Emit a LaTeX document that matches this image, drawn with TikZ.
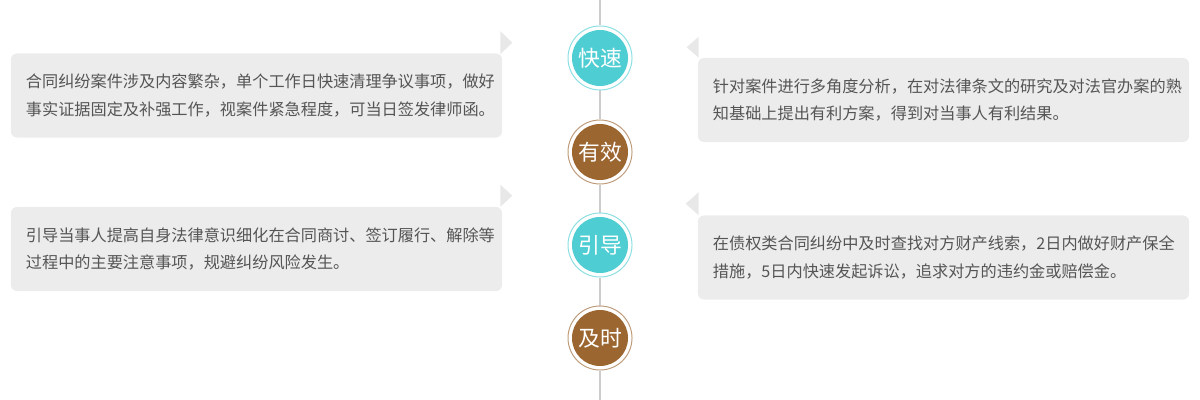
\documentclass[tikz,border=0pt]{standalone}
\usepackage{fontspec}
\newfontfamily\cjk{Noto Sans CJK SC}
\usepackage{xcolor}
\usepackage{tikz}
\usetikzlibrary{backgrounds}

\definecolor{spinegray}{HTML}{CCCCCC}
\definecolor{cardgray}{HTML}{ECECEC}
\definecolor{tipgray}{HTML}{E8E8E8}
\definecolor{textgray}{HTML}{555555}
\definecolor{tealfill}{HTML}{4ECDD3}
\definecolor{brownfill}{HTML}{9C6631}

\begin{document}
\begin{tikzpicture}[
  x=0.025cm, y=-0.025cm,
  card/.style={
    rectangle, rounded corners=0.15cm,
    fill=cardgray, text=textgray,
    text width=11.525cm, inner xsep=0.375cm, minimum height=2.1cm,
    align=left, font=\cjk\fontsize{11.5}{19.5}\selectfont
  },
  badge/.style={
    circle, inner sep=0pt, minimum size=1.6cm,
    draw=#1!65, line width=0.7pt, fill=white,
    text=white, font=\cjk\fontsize{15.5}{17}\selectfont,
    path picture={\fill[#1] (path picture bounding box.center) circle (0.7cm);}
  },
  tip/.style={fill=tipgray},
  spine/.style={draw=spinegray, line width=1.5pt},
]

\useasboundingbox (0,0) rectangle (1200,400);

%% ── Centre column ────────────────────────────────────────────────
\coordinate (top)    at (600,0);
\coordinate (bottom) at (600,400);
\node[badge=tealfill]  (fast)   at (600,58)  {快速};
\node[badge=brownfill] (effect) at (600,152) {有效};
\node[badge=tealfill]  (guide)  at (600,245) {引导};
\node[badge=brownfill] (prompt) at (600,338) {及时};

%% ── Cards ────────────────────────────────────────────────────────
\node[card] (cfast) at (256.5,95.5)
  {合同纠纷案件涉及内容繁杂，单个工作日快速清理争议事项，做好\\事实证据固定及补强工作，视案件紧急程度，可当日签发律师函。};
\node[card] (ceffect) at (943.5,100)
  {针对案件进行多角度分析，在对法律条文的研究及对法官办案的熟\\知基础上提出有利方案，得到对当事人有利结果。};
\node[card] (cguide) at (256.5,249)
  {引导当事人提高自身法律意识细化在合同商讨、签订履行、解除等\\过程中的主要注意事项，规避纠纷风险发生。};
\node[card] (cprompt) at (943.5,257.5)
  {在债权类合同纠纷中及时查找对方财产线索，2日内做好财产保全\\措施，5日内快速发起诉讼，追求对方的违约金或赔偿金。};

%% ── Pointers ─────────────────────────────────────────────────────
\fill[tip] ([shift={(-2,-22)}]cfast.north east)  -- ++(12,11.5) -- ++(-12,11.5) -- cycle;
\fill[tip] ([shift={(-2,-22)}]cguide.north east) -- ++(12,11)   -- ++(-12,11)   -- cycle;
\fill[tip] ([shift={(1,-21)}]ceffect.north west) -- ++(-12,10.5) -- ++(12,10.5) -- cycle;
\fill[tip] ([shift={(1,-23)}]cprompt.north west) -- ++(-13,11.5) -- ++(13,11.5) -- cycle;

%% ── Spine behind the badges ──────────────────────────────────────
\begin{scope}[on background layer]
  \draw[spine] (top) -- (fast) -- (effect) -- (guide) -- (prompt) -- (bottom);
\end{scope}

\end{tikzpicture}
\end{document}
